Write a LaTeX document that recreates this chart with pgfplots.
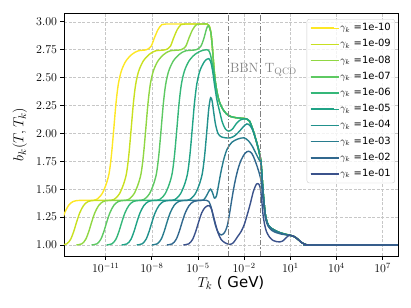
\documentclass[border=0pt]{standalone}
\usepackage{fontspec}
\usepackage{pgfplots}
\usepackage{pgfplotstable}
\pgfplotsset{compat=1.18}
\newfontfamily\djv{DejaVu Sans}
\definecolor{c0}{HTML}{FDE725}
\definecolor{c1}{HTML}{C8E020}
\definecolor{c2}{HTML}{90D743}
\definecolor{c3}{HTML}{5EC962}
\definecolor{c4}{HTML}{35B779}
\definecolor{c5}{HTML}{20A386}
\definecolor{c6}{HTML}{21918C}
\definecolor{c7}{HTML}{287C8E}
\definecolor{c8}{HTML}{31688E}
\definecolor{c9}{HTML}{3B528B}

\pgfplotstableread[row sep=\\]{
lx b\\
-14.86 1.00\\ -14.51 1.01\\ -14.26 1.05\\ -14.06 1.12\\ -13.86 1.21\\ -13.66 1.29\\ -13.41 1.355\\ -13.11 1.39\\ -12.66 1.40\\
-11.78 1.40\\ -11.48 1.42\\ -11.23 1.46\\ -10.98 1.54\\ -10.78 1.64\\ -10.63 1.80\\ -10.48 2.03\\ -10.33 2.27\\ -10.18 2.44\\ -9.98 2.56\\ -9.68 2.65\\ -9.28 2.71\\ -8.88 2.74\\
-8.35 2.75\\ -8.05 2.78\\ -7.85 2.85\\ -7.6 2.93\\ -7.35 2.975\\ -7.1 2.98\\ -6.0 2.98\\ -5.0 2.98\\ -4.4 2.98\\
-4.28 2.965\\ -4.17 2.91\\ -4.07 2.78\\ -3.97 2.60\\ -3.87 2.46\\ -3.75 2.36\\ -3.60 2.28\\ -3.40 2.22\\ -3.15 2.175\\ -2.85 2.15\\ -2.50 2.14\\ -2.10 2.135\\ -1.85 2.13\\ -1.65 2.11\\ -1.45 2.04\\ -1.25 1.95\\ -1.09 1.87\\ -0.92 1.76\\ -0.85 1.64\\ -0.78 1.50\\ -0.70 1.37\\ -0.62 1.27\\ -0.50 1.20\\ -0.33 1.16\\ 0.00 1.13\\ 0.32 1.11\\ 0.70 1.095\\ 0.97 1.087\\ 1.25 1.075\\ 1.50 1.05\\ 1.75 1.02\\ 2.00 1.004\\ 2.20 1.00\\ 5.00 1.00\\ 8.00 1.00\\
}\tA
\pgfplotstableread[row sep=\\]{
lx b\\
-13.88 1.00\\ -13.53 1.01\\ -13.28 1.05\\ -13.08 1.12\\ -12.88 1.21\\ -12.68 1.29\\ -12.43 1.355\\ -12.13 1.39\\ -11.68 1.40\\
-10.65 1.40\\ -10.35 1.42\\ -10.1 1.46\\ -9.85 1.54\\ -9.65 1.64\\ -9.5 1.80\\ -9.35 2.03\\ -9.2 2.27\\ -9.05 2.44\\ -8.85 2.56\\ -8.55 2.65\\ -8.15 2.71\\ -7.75 2.74\\
-7.1 2.75\\ -6.8 2.78\\ -6.6 2.85\\ -6.35 2.93\\ -6.1 2.975\\ -5.85 2.98\\ -5.0 2.98\\ -4.4 2.98\\
-4.28 2.965\\ -4.17 2.91\\ -4.07 2.78\\ -3.97 2.60\\ -3.87 2.46\\ -3.75 2.36\\ -3.60 2.28\\ -3.40 2.22\\ -3.15 2.175\\ -2.85 2.15\\ -2.50 2.14\\ -2.10 2.135\\ -1.85 2.13\\ -1.65 2.11\\ -1.45 2.04\\ -1.25 1.95\\ -1.09 1.87\\ -0.92 1.76\\ -0.85 1.64\\ -0.78 1.50\\ -0.70 1.37\\ -0.62 1.27\\ -0.50 1.20\\ -0.33 1.16\\ 0.00 1.13\\ 0.32 1.11\\ 0.70 1.095\\ 0.97 1.087\\ 1.25 1.075\\ 1.50 1.05\\ 1.75 1.02\\ 2.00 1.004\\ 2.20 1.00\\ 5.00 1.00\\ 8.00 1.00\\
}\tB
\pgfplotstableread[row sep=\\]{
lx b\\
-12.9 1.00\\ -12.55 1.01\\ -12.3 1.05\\ -12.1 1.12\\ -11.9 1.21\\ -11.7 1.29\\ -11.45 1.355\\ -11.15 1.39\\ -10.7 1.40\\
-9.7 1.40\\ -9.4 1.42\\ -9.15 1.46\\ -8.9 1.54\\ -8.7 1.64\\ -8.55 1.80\\ -8.4 2.03\\ -8.25 2.27\\ -8.1 2.44\\ -7.9 2.56\\ -7.6 2.65\\ -7.2 2.71\\ -6.8 2.74\\
-6.1 2.75\\ -5.8 2.78\\ -5.6 2.85\\ -5.35 2.93\\ -5.1 2.975\\ -4.85 2.98\\ -4.4 2.98\\
-4.28 2.965\\ -4.17 2.91\\ -4.07 2.78\\ -3.97 2.60\\ -3.87 2.46\\ -3.75 2.36\\ -3.60 2.28\\ -3.40 2.22\\ -3.15 2.175\\ -2.85 2.15\\ -2.50 2.14\\ -2.10 2.135\\ -1.85 2.13\\ -1.65 2.11\\ -1.45 2.04\\ -1.25 1.95\\ -1.09 1.87\\ -0.92 1.76\\ -0.85 1.64\\ -0.78 1.50\\ -0.70 1.37\\ -0.62 1.27\\ -0.50 1.20\\ -0.33 1.16\\ 0.00 1.13\\ 0.32 1.11\\ 0.70 1.095\\ 0.97 1.087\\ 1.25 1.075\\ 1.50 1.05\\ 1.75 1.02\\ 2.00 1.004\\ 2.20 1.00\\ 5.00 1.00\\ 8.00 1.00\\
}\tC
\pgfplotstableread[row sep=\\]{
lx b\\
-11.92 1.00\\ -11.57 1.01\\ -11.32 1.05\\ -11.12 1.12\\ -10.92 1.21\\ -10.72 1.29\\ -10.47 1.355\\ -10.17 1.39\\ -9.72 1.40\\
-8.7 1.40\\ -8.4 1.42\\ -8.15 1.46\\ -7.9 1.54\\ -7.7 1.64\\ -7.55 1.80\\ -7.4 2.03\\ -7.25 2.27\\ -7.1 2.44\\ -6.9 2.56\\ -6.6 2.65\\ -6.2 2.71\\ -5.8 2.74\\
-5.12 2.75\\ -4.82 2.78\\ -4.62 2.85\\ -4.45 2.935\\ -4.33 2.965\\
-4.17 2.91\\ -4.07 2.78\\ -3.97 2.60\\ -3.87 2.46\\ -3.75 2.36\\ -3.60 2.28\\ -3.40 2.22\\ -3.15 2.175\\ -2.85 2.15\\ -2.50 2.14\\ -2.10 2.135\\ -1.85 2.13\\ -1.65 2.11\\ -1.45 2.04\\ -1.25 1.95\\ -1.09 1.87\\ -0.92 1.76\\ -0.85 1.64\\ -0.78 1.50\\ -0.70 1.37\\ -0.62 1.27\\ -0.50 1.20\\ -0.33 1.16\\ 0.00 1.13\\ 0.32 1.11\\ 0.70 1.095\\ 0.97 1.087\\ 1.25 1.075\\ 1.50 1.05\\ 1.75 1.02\\ 2.00 1.004\\ 2.20 1.00\\ 5.00 1.00\\ 8.00 1.00\\
}\tD
\pgfplotstableread[row sep=\\]{
lx b\\
-10.94 1.00\\ -10.59 1.01\\ -10.34 1.05\\ -10.14 1.12\\ -9.94 1.21\\ -9.74 1.29\\ -9.49 1.355\\ -9.19 1.39\\ -8.74 1.40\\
-7.68 1.40\\ -7.38 1.42\\ -7.13 1.46\\ -6.88 1.54\\ -6.68 1.64\\ -6.53 1.80\\ -6.38 2.03\\ -6.23 2.27\\ -6.08 2.44\\ -5.88 2.56\\ -5.58 2.65\\ -5.18 2.71\\ -4.78 2.74\\
-4.45 2.75\\ -4.32 2.745\\ -4.2 2.71\\ -4.08 2.63\\ -3.97 2.55\\ -3.87 2.46\\
-3.75 2.36\\ -3.60 2.28\\ -3.40 2.22\\ -3.15 2.175\\ -2.85 2.15\\ -2.50 2.14\\ -2.10 2.135\\ -1.85 2.13\\ -1.65 2.11\\ -1.45 2.04\\ -1.25 1.95\\ -1.09 1.87\\ -0.92 1.76\\ -0.85 1.64\\ -0.78 1.50\\ -0.70 1.37\\ -0.62 1.27\\ -0.50 1.20\\ -0.33 1.16\\ 0.00 1.13\\ 0.32 1.11\\ 0.70 1.095\\ 0.97 1.087\\ 1.25 1.075\\ 1.50 1.05\\ 1.75 1.02\\ 2.00 1.004\\ 2.20 1.00\\ 5.00 1.00\\ 8.00 1.00\\
}\tE
\pgfplotstableread[row sep=\\]{
lx b\\
-9.96 1.00\\ -9.61 1.01\\ -9.36 1.05\\ -9.16 1.12\\ -8.96 1.21\\ -8.76 1.29\\ -8.51 1.355\\ -8.21 1.39\\ -7.76 1.40\\
-6.68 1.40\\ -6.38 1.42\\ -6.13 1.46\\ -5.88 1.54\\ -5.68 1.64\\ -5.53 1.80\\ -5.38 2.03\\ -5.23 2.27\\ -5.08 2.44\\ -4.88 2.56\\ -4.6 2.64\\ -4.42 2.665\\ -4.3 2.67\\
-4.17 2.64\\ -4.04 2.55\\ -3.92 2.43\\ -3.77 2.30\\ -3.60 2.20\\ -3.42 2.10\\ -3.22 2.04\\ -3.0 2.02\\ -2.75 2.04\\ -2.5 2.09\\ -2.25 2.12\\ -2.0 2.13\\
-1.85 2.13\\ -1.65 2.11\\ -1.45 2.04\\ -1.25 1.95\\ -1.09 1.87\\ -0.92 1.76\\ -0.85 1.64\\ -0.78 1.50\\ -0.70 1.37\\ -0.62 1.27\\ -0.50 1.20\\ -0.33 1.16\\ 0.00 1.13\\ 0.32 1.11\\ 0.70 1.095\\ 0.97 1.087\\ 1.25 1.075\\ 1.50 1.05\\ 1.75 1.02\\ 2.00 1.004\\ 2.20 1.00\\ 5.00 1.00\\ 8.00 1.00\\
}\tF
\pgfplotstableread[row sep=\\]{
lx b\\
-8.98 1.00\\ -8.63 1.01\\ -8.38 1.05\\ -8.18 1.12\\ -7.98 1.21\\ -7.78 1.29\\ -7.53 1.355\\ -7.23 1.39\\ -6.78 1.40\\
-5.72 1.40\\ -5.42 1.42\\ -5.17 1.46\\ -4.92 1.54\\ -4.72 1.64\\ -4.57 1.80\\ -4.42 2.03\\ -4.3 2.22\\ -4.18 2.32\\ -4.08 2.29\\ -3.98 2.19\\ -3.86 2.08\\ -3.7 2.00\\ -3.5 1.97\\ -3.2 1.96\\ -2.9 1.96\\ -2.6 1.98\\ -2.3 2.02\\ -2.05 2.06\\ -1.82 2.085\\ -1.62 2.07\\ -1.45 2.03\\ -1.3 1.97\\
-1.09 1.87\\ -0.92 1.76\\ -0.85 1.64\\ -0.78 1.50\\ -0.70 1.37\\ -0.62 1.27\\ -0.50 1.20\\ -0.33 1.16\\ 0.00 1.13\\ 0.32 1.11\\ 0.70 1.095\\ 0.97 1.087\\ 1.25 1.075\\ 1.50 1.05\\ 1.75 1.02\\ 2.00 1.004\\ 2.20 1.00\\ 5.00 1.00\\ 8.00 1.00\\
}\tG
\pgfplotstableread[row sep=\\]{
lx b\\
-8.0 1.00\\ -7.65 1.01\\ -7.4 1.05\\ -7.2 1.12\\ -7.0 1.21\\ -6.8 1.29\\ -6.55 1.355\\ -6.25 1.39\\ -5.8 1.40\\
-4.8 1.40\\ -4.6 1.41\\ -4.45 1.44\\ -4.3 1.48\\ -4.18 1.50\\ -4.06 1.47\\ -3.93 1.42\\ -3.8 1.44\\ -3.66 1.54\\ -3.5 1.66\\ -3.3 1.78\\ -3.1 1.86\\ -2.8 1.92\\ -2.4 1.95\\ -2.0 1.96\\ -1.7 1.93\\ -1.45 1.88\\ -1.2 1.81\\ -1.05 1.77\\ -0.92 1.74\\
-0.85 1.63\\ -0.78 1.50\\ -0.70 1.37\\ -0.62 1.27\\ -0.50 1.20\\ -0.33 1.16\\ 0.00 1.13\\ 0.32 1.11\\ 0.70 1.095\\ 0.97 1.087\\ 1.25 1.075\\ 1.50 1.05\\ 1.75 1.02\\ 2.00 1.004\\ 2.20 1.00\\ 5.00 1.00\\ 8.00 1.00\\
}\tH
\pgfplotstableread[row sep=\\]{
lx b\\
-7.02 1.00\\ -6.67 1.01\\ -6.42 1.05\\ -6.22 1.12\\ -6.02 1.21\\ -5.82 1.29\\ -5.57 1.355\\ -5.27 1.39\\ -4.82 1.40\\
-4.45 1.40\\ -4.3 1.39\\ -4.15 1.34\\ -4.0 1.25\\ -3.85 1.17\\ -3.68 1.11\\ -3.48 1.09\\ -3.28 1.11\\ -3.1 1.17\\ -2.95 1.28\\ -2.8 1.41\\ -2.62 1.55\\ -2.42 1.67\\ -2.2 1.76\\ -1.95 1.82\\ -1.72 1.84\\ -1.5 1.82\\ -1.3 1.76\\ -1.1 1.68\\ -0.92 1.59\\ -0.8 1.45\\ -0.7 1.33\\ -0.6 1.23\\ -0.45 1.17\\ -0.2 1.13\\ 0.1 1.11\\ 0.5 1.095\\
0.97 1.087\\ 1.25 1.075\\ 1.50 1.05\\ 1.75 1.02\\ 2.00 1.004\\ 2.20 1.00\\ 5.00 1.00\\ 8.00 1.00\\
}\tI
\pgfplotstableread[row sep=\\]{
lx b\\
-5.95 1.00\\ -5.6 1.01\\ -5.35 1.05\\ -5.15 1.12\\ -4.95 1.21\\ -4.75 1.29\\ -4.55 1.335\\ -4.38 1.352\\ -4.25 1.35\\ -4.12 1.32\\ -3.98 1.25\\ -3.85 1.18\\ -3.7 1.11\\ -3.5 1.05\\ -3.25 1.02\\ -2.95 1.005\\ -2.7 1.02\\ -2.45 1.07\\ -2.2 1.12\\ -2.0 1.18\\ -1.8 1.27\\ -1.6 1.37\\ -1.4 1.48\\ -1.2 1.545\\ -1.05 1.545\\ -0.95 1.51\\ -0.87 1.42\\ -0.78 1.28\\ -0.68 1.19\\ -0.55 1.12\\ -0.35 1.07\\ -0.12 1.04\\ 0.1 1.03\\ 0.32 1.027\\ 0.5 1.035\\ 0.7 1.06\\ 0.85 1.08\\
0.97 1.087\\ 1.25 1.075\\ 1.50 1.05\\ 1.75 1.02\\ 2.00 1.004\\ 2.20 1.00\\ 5.00 1.00\\ 8.00 1.00\\
}\tJ

\begin{document}
\begin{tikzpicture}
\begin{axis}[
  scale only axis, width=334bp, height=243bp,
  xmode=log, log basis x=10,
  xmin=1.95e-14, xmax=1e8, ymin=0.901, ymax=3.079,
  xtick={1e-11,1e-8,1e-5,1e-2,1e1,1e4,1e7},
  xticklabels={$10^{-11}$,$10^{-8}$,$10^{-5}$,$10^{-2}$,$10^{1}$,$10^{4}$,$10^{7}$},
  minor xtick={},
  ytick={1,1.25,1.5,1.75,2,2.25,2.5,2.75,3},
  yticklabels={$1.00$,$1.25$,$1.50$,$1.75$,$2.00$,$2.25$,$2.50$,$2.75$,$3.00$},
  grid=major, grid style={dash pattern=on 3bp off 1.6bp, color=black!22, line width=0.6bp},
  tick pos=left, tick align=outside, major tick length=3.5bp,
  every tick/.style={black, line width=0.8bp},
  axis line style={black, line width=0.8bp},
  tick label style={font=\fontsize{11.5}{13}\selectfont},
  xlabel={$T_k$ {\djv ( GeV)}}, ylabel={$b_k(T,T_k)$},
  label style={font=\fontsize{15}{18}\selectfont},
  xlabel style={at={(axis description cs:0.5,-0.111)}, anchor=center},
  ylabel style={at={(axis description cs:-0.132,0.5)}, anchor=center},
  legend style={at={(axis description cs:1,1)}, anchor=north east, xshift=-3bp, yshift=-6bp,
    draw=black!20, fill=white, fill opacity=0.8, text opacity=1, draw opacity=1,
    rounded corners=2.5bp, font=\fontsize{10}{12}\selectfont,
    inner xsep=3bp, inner ysep=3bp, row sep=4.2bp,
    nodes={inner sep=1bp, text height=7.5bp, text depth=2.5bp}},
  legend cell align=left,
  legend image code/.code={\draw[#1, line width=1.5bp] (0bp,0bp) -- (23bp,0bp); \path (0bp,0bp) -- (28bp,0bp);},
  cv/.style={line width=1.4bp, smooth, tension=0.5},
]
\addplot[cv, c0] table[x expr={10^(\thisrow{lx})}, y=b] {\tA}; \addlegendentry{$\gamma_k$ {\djv =1e-10}}
\addplot[cv, c1] table[x expr={10^(\thisrow{lx})}, y=b] {\tB}; \addlegendentry{$\gamma_k$ {\djv =1e-09}}
\addplot[cv, c2] table[x expr={10^(\thisrow{lx})}, y=b] {\tC}; \addlegendentry{$\gamma_k$ {\djv =1e-08}}
\addplot[cv, c3] table[x expr={10^(\thisrow{lx})}, y=b] {\tD}; \addlegendentry{$\gamma_k$ {\djv =1e-07}}
\addplot[cv, c4] table[x expr={10^(\thisrow{lx})}, y=b] {\tE}; \addlegendentry{$\gamma_k$ {\djv =1e-06}}
\addplot[cv, c5] table[x expr={10^(\thisrow{lx})}, y=b] {\tF}; \addlegendentry{$\gamma_k$ {\djv =1e-05}}
\addplot[cv, c6] table[x expr={10^(\thisrow{lx})}, y=b] {\tG}; \addlegendentry{$\gamma_k$ {\djv =1e-04}}
\addplot[cv, c7] table[x expr={10^(\thisrow{lx})}, y=b] {\tH}; \addlegendentry{$\gamma_k$ {\djv =1e-03}}
\addplot[cv, c8] table[x expr={10^(\thisrow{lx})}, y=b] {\tI}; \addlegendentry{$\gamma_k$ {\djv =1e-02}}
\addplot[cv, c9] table[x expr={10^(\thisrow{lx})}, y=b] {\tJ}; \addlegendentry{$\gamma_k$ {\djv =1e-01}}
\addplot[forget plot, black!50, line width=1.2bp, dash pattern=on 5.5bp off 2bp on 1.2bp off 2bp] coordinates {(1e-3,0.901) (1e-3,3.079)};
\addplot[forget plot, black!50, line width=1.2bp, dash pattern=on 5.5bp off 2bp on 1.2bp off 2bp] coordinates {(0.12,0.901) (0.12,3.079)};
\node[anchor=base west, inner sep=0pt, text=black!50, font=\fontsize{13.5}{15}\selectfont] at (axis cs:1.17e-3,2.55) {$\mathrm{BBN}$};
\node[anchor=base west, inner sep=0pt, text=black!50, font=\fontsize{13.5}{15}\selectfont] at (axis cs:0.219,2.55) {$\mathrm{T_{QCD}}$};
\end{axis}
\pgfresetboundingbox
\path[use as bounding box] ([shift={(-64bp,-52bp)}]current axis.south west) rectangle ([shift={(13bp,13bp)}]current axis.north east);
\end{tikzpicture}
\end{document}
